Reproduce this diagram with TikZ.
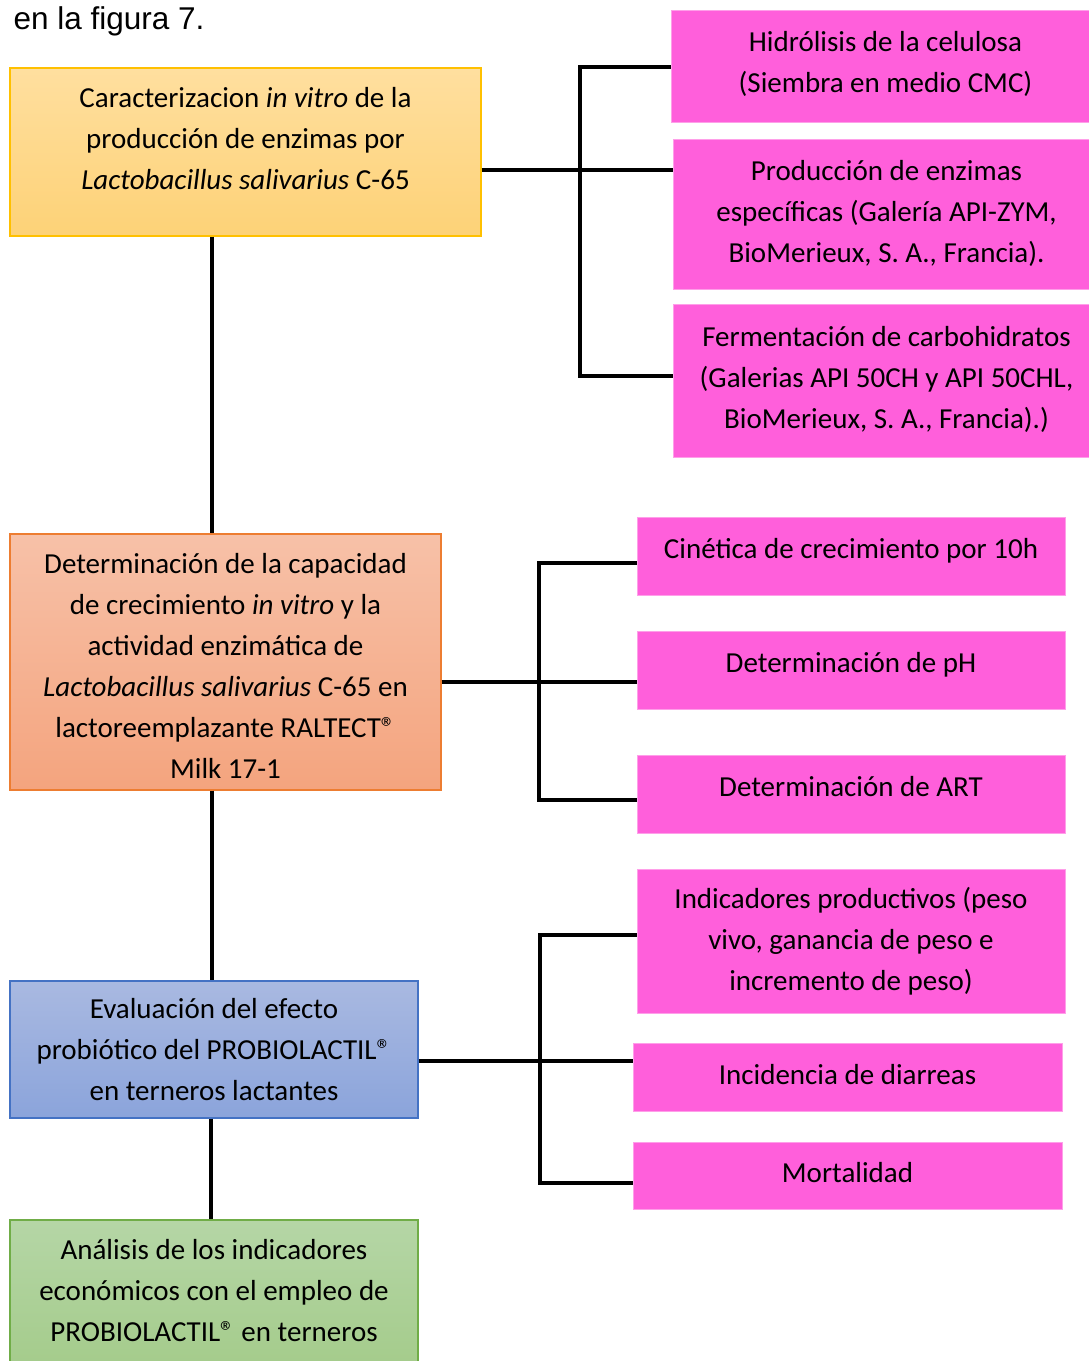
\documentclass[tikz,border=0pt]{standalone}
\usepackage{fontspec}
\setmainfont{Carlito}
\newfontfamily\capfont{Liberation Sans}
\usepackage{tikz}
\usetikzlibrary{positioning}

\definecolor{ytop}{HTML}{FFDF9F}
\definecolor{ybot}{HTML}{FDD277}
\definecolor{yedge}{HTML}{FFC000}
\definecolor{otop}{HTML}{F7C1A8}
\definecolor{obot}{HTML}{F4A47E}
\definecolor{oedge}{HTML}{ED7D31}
\definecolor{btop}{HTML}{A9B9E1}
\definecolor{bbot}{HTML}{8BA4DB}
\definecolor{bedge}{HTML}{4472C4}
\definecolor{gtop}{HTML}{B5D6A6}
\definecolor{gbot}{HTML}{A5CC8C}
\definecolor{gedge}{HTML}{70AD47}
\definecolor{pinkfill}{HTML}{FF5FDB}

\begin{document}
\begin{tikzpicture}[x=1pt,y=-1pt,
    box/.style={rectangle, draw, line width=1.2pt, align=center, inner sep=0pt,
        font=\fontsize{29}{41}\selectfont},
    pinkbox/.style={box, fill=pinkfill, draw=pinkfill!60!white, line width=1pt},
    link/.style={line width=3.5pt, black}]
    \fill[white] (0,0) rectangle (1088,1361);
    \useasboundingbox (0,0) rectangle (1088,1361);

    \node[anchor=base west, font=\capfont\fontsize{31.5}{36}\selectfont] (fig) at (10,29) {en la figura 7.};

    \node[box, top color=ytop, bottom color=ybot, draw=yedge, minimum width=471pt, minimum height=168pt] (carac) at (245.5,152)
        {Caracterizacion \textit{in vitro} de la\\producción de enzimas por\\\textit{Lactobacillus salivarius} C-65\\[-13pt]};
    \node[box, top color=otop, bottom color=obot, draw=oedge, minimum width=431pt, minimum height=256pt] (crec) at (225.5,662)
        {Determinación de la capacidad\\de crecimiento \textit{in vitro} y la\\actividad enzimática de\\\textit{Lactobacillus salivarius} C-65 en\\lactoreemplazante RALTECT®\\Milk 17-1\\[-48pt]};
    \node[box, top color=btop, bottom color=bbot, draw=bedge, minimum width=408pt, minimum height=137pt] (eval) at (214,1049.5)
        {Evaluación del efecto\\probiótico del PROBIOLACTIL®\\en terneros lactantes};
    \node[box, top color=gtop, bottom color=gbot, draw=gedge, minimum width=408pt, minimum height=142pt] (econ) at (214,1291)
        {Análisis de los indicadores\\económicos con el empleo de\\PROBIOLACTIL® en terneros};

    \node[pinkbox, minimum width=429pt, minimum height=112pt] (hid) at (885.5,66)
        {Hidrólisis de la celulosa\\(Siembra en medio CMC)\\[-32pt]};
    \node[pinkbox, minimum width=427pt, minimum height=150pt] (enz) at (886.5,214)
        {Producción de enzimas\\específicas (Galería API-ZYM,\\BioMerieux, S. A., Francia).\\[-35pt]};
    \node[pinkbox, minimum width=427pt, minimum height=153pt] (ferm) at (886.5,380.5)
        {Fermentación de carbohidratos\\(Galerias API 50CH y API 50CHL,\\BioMerieux, S. A., Francia).)\\[-34pt]};

    \node[pinkbox, minimum width=428pt, minimum height=78pt] (cin) at (851,556)
        {Cinética de crecimiento por 10h\\[-25pt]};
    \node[pinkbox, minimum width=428pt, minimum height=78pt] (ph) at (851,670)
        {Determinación de pH\\[-25pt]};
    \node[pinkbox, minimum width=428pt, minimum height=78pt] (art) at (851,794)
        {Determinación de ART\\[-25pt]};

    \node[pinkbox, minimum width=428pt, minimum height=144pt] (ind) at (851,941)
        {Indicadores productivos (peso\\vivo, ganancia de peso e\\incremento de peso)};
    \node[pinkbox, minimum width=429pt, minimum height=68pt] (diar) at (847.5,1077)
        {Incidencia de diarreas\\[-35pt]};
    \node[pinkbox, minimum width=429pt, minimum height=67pt] (mort) at (847.5,1175.5)
        {Mortalidad\\[-34pt]};

    \coordinate (t1) at (212,0);
    \coordinate (t2) at (211,0);
    \draw[link] (carac.south -| t1) -- (crec.north -| t1);
    \draw[link] (crec.south -| t1) -- (eval.north -| t1);
    \draw[link] (eval.south -| t2) -- (econ.north -| t2);

    \coordinate (j1) at (580,170);
    \coordinate (j1t) at (580,67);
    \coordinate (j1b) at (580,376);
    \draw[link] (j1 -| carac.east) -- (j1 -| enz.west);
    \draw[link] (j1t -| hid.west) -- (j1t) -- (j1b) -- (j1b -| ferm.west);

    \coordinate (j2) at (539,682);
    \coordinate (j2t) at (539,563);
    \coordinate (j2b) at (539,800);
    \draw[link] (j2 -| crec.east) -- (j2 -| ph.west);
    \draw[link] (j2t -| cin.west) -- (j2t) -- (j2b) -- (j2b -| art.west);

    \coordinate (j3) at (540,1061);
    \coordinate (j3t) at (540,935);
    \coordinate (j3b) at (540,1183);
    \draw[link] (j3 -| eval.east) -- (j3 -| diar.west);
    \draw[link] (j3t -| ind.west) -- (j3t) -- (j3b) -- (j3b -| mort.west);
\end{tikzpicture}
\end{document}
